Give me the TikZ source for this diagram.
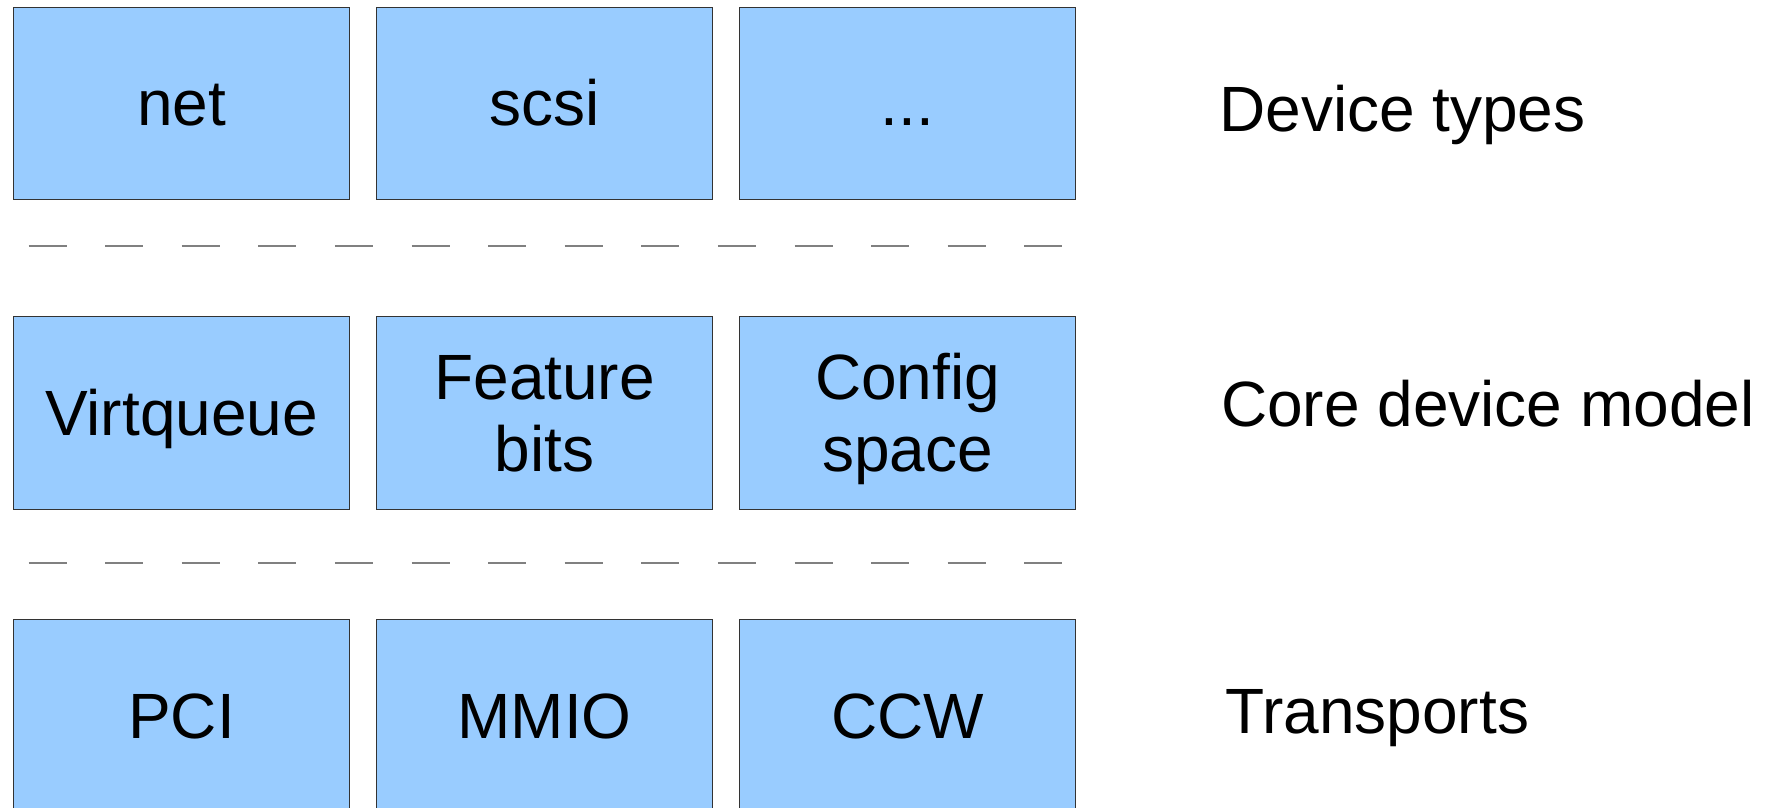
\documentclass[tikz,border=0pt]{standalone}
\usepackage{fontspec}
\setmainfont{Liberation Sans}
\usetikzlibrary{positioning}
\definecolor{boxblue}{HTML}{99CCFF}
\newcommand\lstrut{\rule[-6.8pt]{0pt}{35.8pt}}

\begin{document}
\begin{tikzpicture}[x=0.5pt,y=-0.5pt,
  layer/.style={draw=black!80,line width=0.5pt,fill=boxblue,minimum width=168.25pt,minimum height=96.25pt,inner sep=0pt,align=center,font=\fontsize{32}{36}\selectfont},
  tag/.style={anchor=base west,inner sep=0pt,font=\fontsize{32}{36}\selectfont},
  sep/.style={draw=black!50,line width=1pt,dash pattern=on 19pt off 19.3pt}]
\clip (0,0) rectangle (1774,808);
\node[layer] (net) at (181.6,103.6) {\lstrut net};
\node[layer] (scsi) at (544.6,103.6) {\lstrut scsi};
\node[layer] (more) at (907.5,103.6) {\lstrut ...};
\draw[sep] (28.5,245.7)--(1064,245.7);
\node[layer] (vq) at (181.6,413.2) {\lstrut Virtqueue};
\node[layer] (feat) at (544.6,413.2) {\lstrut Feature\\\lstrut bits};
\node[layer] (cfg) at (907.5,413.2) {\lstrut Config\\\lstrut space};
\draw[sep] (28.5,563.3)--(1064,563.3);
\node[layer] (pci) at (181.6,716) {\lstrut PCI};
\node[layer] (mmio) at (544.6,716) {\lstrut MMIO};
\node[layer] (ccw) at (907.5,716) {\lstrut CCW};
\node[tag] (types) at (1218.8,131.7) {Device types};
\node[tag] (core) at (1220.6,426.7) {Core device model};
\node[tag] (trans) at (1225.2,733.3) {Transports};
\end{tikzpicture}
\end{document}
